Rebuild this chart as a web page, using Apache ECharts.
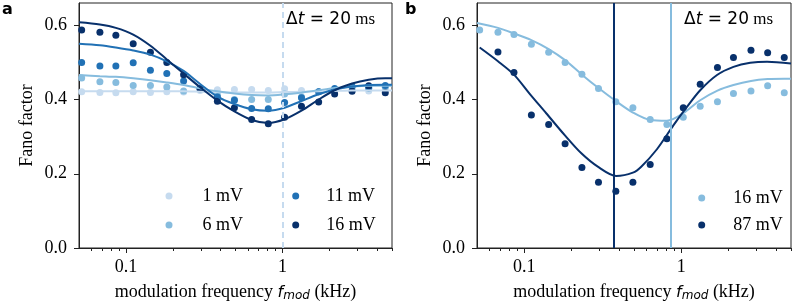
<!DOCTYPE html>
<html><head><meta charset="utf-8">
<script src="https://cdn.jsdelivr.net/npm/echarts@6/dist/echarts.min.js"></script>
<style>html,body{margin:0;padding:0;background:#fff}#c{width:795px;height:307px}</style>
</head><body><div id="c"></div>
<script>
// ---- data (frequencies in kHz) ----
const freqs = [0.052,0.068,0.086,0.111,0.143,0.182,0.233,0.297,0.383,0.492,0.634,0.81,1.03,1.32,1.70,2.15,2.78,3.55,4.53];
const a_1mV  = [0.421,0.419,0.418,0.421,0.419,0.421,0.420,0.424,0.426,0.427,0.427,0.424,0.429,0.424,0.421,0.422,0.424,0.423,0.425];
const a_6mV  = [0.458,0.448,0.446,0.438,0.438,0.434,0.423,0.430,0.412,0.400,0.400,0.400,0.415,0.407,0.421,0.427,0.434,0.430,0.433];
const a_11mV = [0.500,0.490,0.490,0.499,0.479,0.470,0.450,0.430,0.407,0.398,0.376,0.375,0.392,0.405,0.421,0.430,0.435,0.432,0.438];
const a_16mV = [0.587,0.581,0.573,0.550,0.527,0.500,0.467,0.428,0.395,0.378,0.346,0.335,0.352,0.382,0.393,0.415,0.422,0.437,0.418];
const b_16mV = [0.587,0.581,0.575,0.549,0.527,0.500,0.468,0.430,0.394,0.378,0.346,0.333,0.352,0.382,0.394,0.416,0.423,0.437,0.418];
const b_87mV = [null,0.528,0.473,0.358,0.333,0.281,0.217,0.177,0.153,0.177,0.225,0.294,0.378,0.441,0.486,0.513,0.533,0.526,0.513];

const fitFreqs = [0.05,0.068,0.086,0.111,0.143,0.182,0.233,0.297,0.383,0.492,0.634,0.81,1.03,1.32,1.70,2.15,2.78,3.55,4.53,5];
const a_fit1  = [0.422,0.422,0.422,0.422,0.422,0.422,0.422,0.421,0.420,0.419,0.419,0.419,0.420,0.421,0.422,0.423,0.424,0.424,0.424,0.424];
const a_fit6  = [0.466,0.463,0.461,0.457,0.452,0.446,0.439,0.430,0.422,0.416,0.412,0.411,0.414,0.419,0.425,0.431,0.435,0.437,0.437,0.437];
const a_fit11 = [0.550,0.546,0.540,0.532,0.521,0.503,0.477,0.442,0.408,0.388,0.374,0.370,0.378,0.396,0.414,0.427,0.435,0.439,0.440,0.440];
const a_fit16 = [0.608,0.602,0.593,0.575,0.545,0.508,0.470,0.433,0.397,0.368,0.345,0.337,0.347,0.370,0.400,0.425,0.443,0.453,0.457,0.457];
const b_fit16 = [0.606,0.593,0.578,0.560,0.536,0.506,0.467,0.431,0.396,0.365,0.345,0.343,0.363,0.398,0.424,0.439,0.450,0.455,0.456,0.456];
const fit87Freqs = [0.052,0.068,0.086,0.108,0.138,0.181,0.231,0.294,0.385,0.492,0.556,0.70,0.893,1.087,1.32,1.69,2.15,2.75,3.52,5];
const b_fit87 = [0.540,0.503,0.467,0.416,0.363,0.304,0.255,0.219,0.194,0.203,0.219,0.266,0.331,0.380,0.425,0.466,0.488,0.499,0.502,0.497];

const vlineA = [1];
const vlineB = [0.371, 0.843];
const xMajor = [0.1, 1];
const xMinor = [0.06,0.07,0.08,0.09,0.2,0.3,0.4,0.5,0.6,0.7,0.8,0.9,2,3,4,5];
const yTicks = [0, 0.2, 0.4, 0.6];
const labels = {a1:'1 mV', a6:'6 mV', a11:'11 mV', a16:'16 mV', b16:'16 mV', b87:'87 mV'};

// ---- styling ----
const C1 = '#c6dbef', C2 = '#86bcde', C3 = '#2171b5', C4 = '#08306b';
const AX = '#222';
const SERIF = 'Liberation Serif', SANS = 'DejaVu Sans';
const FS = 18;
const L = Math.log10;
const XMIN = L(0.05), XMAX = L(5);

const chart = echarts.init(document.getElementById('c'), null, {renderer: 'canvas'});

function pts(xs, ys) { return xs.map((f, i) => [L(f), ys[i]]); }

const xName = '{s|modulation frequency }{m|f}{sub|mod}{s| (kHz)}';
const xNameStyle = {
  rich: {
    s: {fontFamily: SERIF, fontSize: FS, color: '#000'},
    m: {fontFamily: SANS, fontStyle: 'italic', fontSize: 16, color: '#000'},
    sub: {fontFamily: SANS, fontStyle: 'italic', fontSize: 12, color: '#000', padding: [7, 0, 0, 0]}
  }
};

function xAxesFor(g) {
  return [
    {type: 'value', gridIndex: g, position: 'bottom', min: XMIN, max: XMAX,
     axisLine: {show: true, onZero: false, lineStyle: {color: AX, width: 1}},
     axisTick: {show: true, customValues: xMajor.map(L), length: 5, lineStyle: {color: AX}},
     axisLabel: {show: true, customValues: xMajor.map(L), margin: 10,
       formatter: v => String(xMajor[xMajor.map(L).findIndex(q => Math.abs(q - v) < 1e-9)]),
       fontFamily: SERIF, fontSize: FS, color: '#000'},
     splitLine: {show: false},
     name: xName, nameLocation: 'middle', nameGap: 35, nameTextStyle: xNameStyle},
    {type: 'value', gridIndex: g, position: 'bottom', min: XMIN, max: XMAX,
     axisLine: {show: false, onZero: false},
     axisTick: {show: true, customValues: xMinor.map(L), length: 3, lineStyle: {color: AX}},
     axisLabel: {show: false}, splitLine: {show: false}}
  ];
}
function yAxisFor(g) {
  return {type: 'value', gridIndex: g, min: 0, max: 0.66,
    axisLine: {show: true, onZero: false, lineStyle: {color: AX, width: 1}},
    axisTick: {show: true, customValues: yTicks, length: 5, lineStyle: {color: AX}},
    axisLabel: {show: true, customValues: yTicks, margin: 12, formatter: v => v.toFixed(1),
      fontFamily: SERIF, fontSize: FS, color: '#000'},
    splitLine: {show: false},
    name: 'Fano factor', nameLocation: 'middle', nameGap: 43,
    nameTextStyle: {fontFamily: SERIF, fontSize: FS, color: '#000'}};
}

function scatter(name, xi, yi, ys, color) {
  return {type: 'scatter', name, xAxisIndex: xi, yAxisIndex: yi,
    data: pts(freqs, ys).filter(p => p[1] != null), symbol: 'circle', symbolSize: 7,
    itemStyle: {color, opacity: 1}, silent: true};
}
function fit(name, xi, yi, xs, ys, color) {
  return {type: 'line', name, xAxisIndex: xi, yAxisIndex: yi, data: pts(xs, ys),
    showSymbol: false, symbol: 'none', smooth: 0.3, lineStyle: {color, width: 2}, silent: true};
}

function legendAt(left, top, gap, textPad, names) {
  return {orient: 'vertical', icon: 'circle', itemWidth: 7, itemHeight: 7, itemGap: gap,
    padding: 0, left, top, data: names,
    selectedMode: false, formatter: n => labels[n],
    textStyle: {fontFamily: SERIF, fontSize: FS, color: '#000', lineHeight: 16, padding: [0, 0, 0, textPad]}};
}

const deltaRich = {n: {fontFamily: SANS, fontSize: 17, fill: '#000'},
  i: {fontFamily: SANS, fontStyle: 'italic', fontSize: 17, fill: '#000'},
  r: {fontFamily: SERIF, fontSize: 17, fill: '#000'}};

const option = {
  animation: false,
  backgroundColor: '#fff',
  grid: [
    {left: 79, top: 3, width: 313, height: 245, show: true, borderColor: AX, borderWidth: 1},
    {left: 477, top: 3, width: 314, height: 245, show: true, borderColor: AX, borderWidth: 1}
  ],
  xAxis: [...xAxesFor(0), ...xAxesFor(1)],
  yAxis: [yAxisFor(0), yAxisFor(1)],
  legend: [
    legendAt(165.5, 187, 11, 25, ['a1', 'a6']),
    legendAt(292.2, 187, 11, 22, ['a11', 'a16']),
    legendAt(698.2, 189, 9, 23, ['b16', 'b87'])
  ],
  series: [
    scatter('a1', 0, 0, a_1mV, C1), fit('a1f', 0, 0, fitFreqs, a_fit1, C1),
    scatter('a6', 0, 0, a_6mV, C2), fit('a6f', 0, 0, fitFreqs, a_fit6, C2),
    scatter('a11', 0, 0, a_11mV, C3), fit('a11f', 0, 0, fitFreqs, a_fit11, C3),
    scatter('a16', 0, 0, a_16mV, C4), fit('a16f', 0, 0, fitFreqs, a_fit16, C4),
    {type: 'line', name: 'aV', xAxisIndex: 0, yAxisIndex: 0, data: [], z: 5,
     markLine: {silent: true, symbol: 'none', label: {show: false},
       lineStyle: {color: C1, width: 2, type: [6, 4]},
       data: vlineA.map(v => ({xAxis: L(v)}))}},
    scatter('b16', 2, 1, b_16mV, C2), fit('b16f', 2, 1, fitFreqs, b_fit16, C2),
    scatter('b87', 2, 1, b_87mV, C4), fit('b87f', 2, 1, fit87Freqs, b_fit87, C4),
    {type: 'line', name: 'bV', xAxisIndex: 2, yAxisIndex: 1, data: [], z: 5,
     markLine: {silent: true, symbol: 'none', label: {show: false},
       lineStyle: {width: 2, type: 'solid'},
       data: [{xAxis: L(vlineB[0]), lineStyle: {color: C4, width: 2}},
              {xAxis: L(vlineB[1]), lineStyle: {color: C2, width: 2}}]}}
  ],
  graphic: [
    {type: 'text', left: 2, top: 2, style: {text: 'a', font: 'bold 16px "DejaVu Sans"', fill: '#000'}},
    {type: 'text', left: 405, top: 2, style: {text: 'b', font: 'bold 16px "DejaVu Sans"', fill: '#000'}},
    {type: 'text', left: 286, top: 11, style: {text: '{n|\u0394}{i|t}{n| = 20}{r| ms}', rich: deltaRich}},
    {type: 'text', left: 684, top: 11, style: {text: '{n|\u0394}{i|t}{n| = 20}{r| ms}', rich: deltaRich}}
  ]
};
chart.setOption(option);
</script></body></html>
